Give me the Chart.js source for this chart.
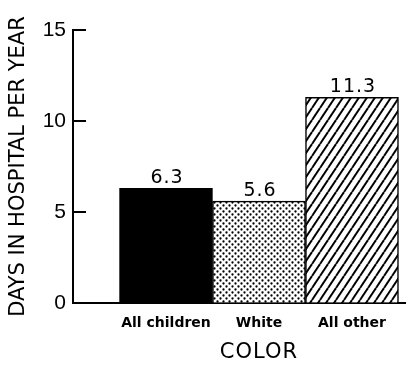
<!DOCTYPE html>
<html>
<head>
<meta charset="utf-8">
<script src="https://cdn.jsdelivr.net/npm/chart.js@4"></script>
<style>
  html, body { margin: 0; padding: 0; background: #fff; }
  #wrap { width: 406px; height: 367px; }
</style>
</head>
<body>
<div id="wrap"><canvas id="hospitalChart" width="406" height="367"></canvas></div>
<script>
const categories = ['All children', 'White', 'All other'];
const days = [6.3, 5.6, 11.3];
const yTicks = [0, 5, 10, 15];
const yTitle = 'DAYS IN HOSPITAL PER YEAR';
const xTitle = 'COLOR';

function dotPattern() {
    const c = document.createElement('canvas');
    c.width = 6; c.height = 6;
    const g = c.getContext('2d');
    g.fillStyle = '#fff';
    g.fillRect(0, 0, 6, 6);
    g.fillStyle = '#000';
    [[1.5, 1.5], [4.5, 4.5]].forEach(function(p) {
        g.beginPath();
        g.arc(p[0], p[1], 1.15, 0, Math.PI * 2);
        g.fill();
    });
    return g.createPattern(c, 'repeat');
}

function hatchPattern() {
    const w = 8, h = 12;
    const c = document.createElement('canvas');
    c.width = w; c.height = h;
    const g = c.getContext('2d');
    g.fillStyle = '#fff';
    g.fillRect(0, 0, w, h);
    g.strokeStyle = '#000';
    g.lineWidth = 2;
    [-w, 0, w].forEach(function(dx) {
        g.beginPath();
        g.moveTo(dx, h);
        g.lineTo(dx + w, 0);
        g.stroke();
    });
    return g.createPattern(c, 'repeat');
}

// inward y ticks, value labels and the x title
const extras = {
    id: 'extras',
    afterDraw(chart) {
        const ctx = chart.ctx;
        const y = chart.scales.y;
        const x = chart.scales.x;
        const area = chart.chartArea;
        ctx.save();
        ctx.strokeStyle = '#000';
        ctx.lineWidth = 2;
        yTicks.forEach(function(v) {
            const py = y.getPixelForValue(v);
            ctx.beginPath();
            ctx.moveTo(area.left, py);
            ctx.lineTo(area.left + 13, py);
            ctx.stroke();
        });

        ctx.fillStyle = '#000';
        ctx.textAlign = 'center';
        ctx.textBaseline = 'alphabetic';
        ctx.font = '19px "DejaVu Sans"';
        ctx.letterSpacing = '1px';
        chart.getDatasetMeta(0).data.forEach(function(bar, i) {
            ctx.fillText(days[i].toFixed(1), bar.x + 1, bar.y - 5);
        });

        ctx.font = '21px "DejaVu Sans"';
        ctx.letterSpacing = '1px';
        ctx.textBaseline = 'middle';
        ctx.fillText(xTitle, x.getPixelForValue(2), 353);
        ctx.restore();
    }
};

document.addEventListener('DOMContentLoaded', function () {
    const ctx = document.getElementById('hospitalChart').getContext('2d');
    const points = days.map(function(d, i) { return { x: i + 1, y: d }; });

    new Chart(ctx, {
        type: 'bar',
        data: {
            datasets: [{
                data: points,
                backgroundColor: ['#000', dotPattern(), hatchPattern()],
                borderColor: '#000',
                borderWidth: 1.5,
                categoryPercentage: 1,
                barPercentage: 1
            }]
        },
        options: {
            responsive: false,
            animation: false,
            layout: { padding: { top: 30, right: 1, bottom: 0, left: 0 } },
            plugins: {
                legend: { display: false },
                tooltip: { enabled: false }
            },
            scales: {
                x: {
                    type: 'linear',
                    offset: false,
                    min: 0,
                    max: 3.57,
                    afterBuildTicks: function(scale) {
                        scale.ticks = categories.map(function(c, i) { return { value: i + 1 }; });
                    },
                    afterFit: function(scale) { scale.height = 64; },
                    grid: { display: true, drawOnChartArea: false, drawTicks: false },
                    border: { display: true, color: '#000', width: 2 },
                    ticks: {
                        color: '#000',
                        padding: 12,
                        maxRotation: 0,
                        autoSkip: false,
                        font: { family: 'DejaVu Sans', size: 14, weight: 'bold' },
                        callback: function(value) { return categories[value - 1] || ''; }
                    }
                },
                y: {
                    min: 0,
                    max: 15,
                    afterBuildTicks: function(scale) {
                        scale.ticks = yTicks.map(function(v) { return { value: v }; });
                    },
                    afterFit: function(scale) { scale.width = 73; },
                    grid: { display: true, drawOnChartArea: false, drawTicks: false },
                    border: { display: true, color: '#000', width: 2 },
                    ticks: {
                        color: '#000',
                        padding: 7,
                        font: { family: 'Liberation Sans', size: 21 }
                    },
                    title: {
                        display: true,
                        text: yTitle,
                        color: '#000',
                        padding: { top: 6, bottom: 0 },
                        font: { family: 'DejaVu Sans', size: 21 }
                    }
                }
            }
        },
        plugins: [extras]
    });
});
</script>
</body>
</html>
